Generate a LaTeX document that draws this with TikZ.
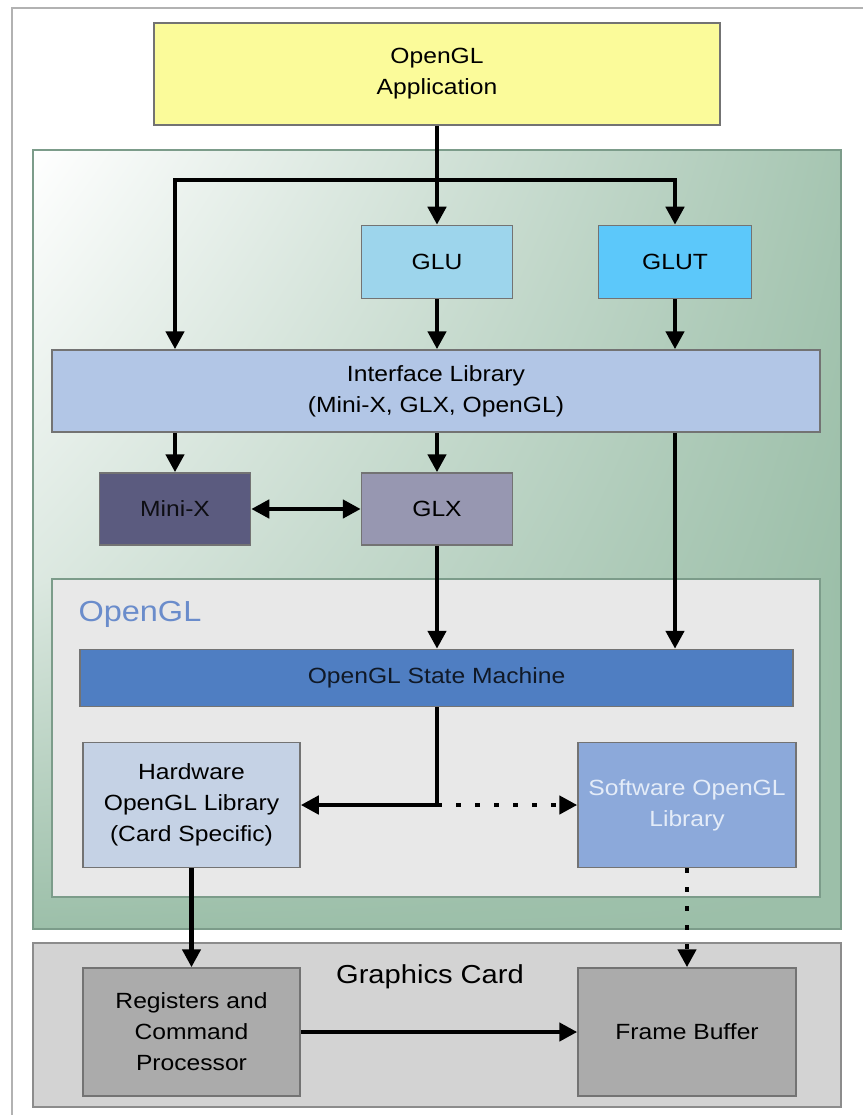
\documentclass[tikz,border=0pt]{standalone}
\usepackage{fontspec}
\setmainfont{Liberation Sans}[FakeStretch=1.12]
\usepackage{tikz}
\usetikzlibrary{arrows.meta,shadings}

\definecolor{appyellow}{HTML}{FBFB9A}
\definecolor{panelgreen}{HTML}{9CBFA9}
\definecolor{panelline}{HTML}{7C9C8A}
\definecolor{glublue}{HTML}{9DD5EC}
\definecolor{glutblue}{HTML}{5CC8FA}
\definecolor{ifaceblue}{HTML}{B2C6E6}
\definecolor{minixcol}{HTML}{5B5B7F}
\definecolor{glxcol}{HTML}{9797B1}
\definecolor{glpanel}{HTML}{E8E8E8}
\definecolor{gllabel}{HTML}{6A8CCB}
\definecolor{smblue}{HTML}{4F7EC2}
\definecolor{hwcol}{HTML}{C5D2E5}
\definecolor{swcol}{HTML}{8CA9DA}
\definecolor{swtext}{HTML}{E4ECF8}
\definecolor{cardgray}{HTML}{D3D3D3}
\definecolor{boxgray}{HTML}{ABABAB}

\begin{document}
\begin{tikzpicture}
  [x=1pt,y=-1pt,align=center,font=\fontsize{22}{31}\selectfont,
   box/.style={draw=black!55,line width=1.5pt,inner sep=0pt},
   link/.style={line width=4.5pt},
   dots/.style={line width=4.5pt,dash pattern=on 4.5pt off 14.5pt},
   >={Triangle[length=18pt,width=18pt]}]

  \useasboundingbox (0,0) rectangle (863,1115);
  \draw [black!30,line width=1.5pt] (12,1115) -- (12,8) -- (863,8);

  \shade [upper left=white,upper right=panelgreen!90,lower left=panelgreen!35,lower right=panelgreen]
    (33,150) rectangle (841,580);
  \shade [upper left=panelgreen!35,upper right=panelgreen,lower left=panelgreen,lower right=panelgreen]
    (33,579) rectangle (841,929);
  \draw [panelline,line width=1.5pt] (33,150) rectangle (841,929);
  \draw [fill=glpanel,draw=panelline,line width=1.5pt] (52,579) rectangle (820,897);
  \draw [fill=cardgray,draw=black!45,line width=1.5pt] (33,943) rectangle (841,1107);

  \node (app) [box,fill=appyellow,minimum width=566,minimum height=102] at (437,74) {OpenGL\\Application};
  \node (glu) [box,fill=glublue,minimum width=151,minimum height=73] at (437,262) {GLU};
  \node (glut) [box,fill=glutblue,minimum width=153,minimum height=73] at (675,262) {GLUT};
  \node (iface) [box,fill=ifaceblue,minimum width=768,minimum height=82] at (436,391) {Interface Library\\(Mini-X, GLX, OpenGL)};
  \node (minix) [box,fill=minixcol,text=black!85!minixcol,minimum width=151,minimum height=72] at (175,509) {Mini-X};
  \node (glx) [box,fill=glxcol,minimum width=151,minimum height=72] at (437,509) {GLX};
  \node (gl) [text=gllabel,font=\fontsize{29}{34}\selectfont,anchor=west] at (75,614) {OpenGL};
  \node (sm) [box,fill=smblue,text=black!80!smblue,minimum width=713,minimum height=57] at (436.5,678) {OpenGL State Machine};
  \node (hw) [box,fill=hwcol,minimum width=217,minimum height=125] at (191.5,805) {Hardware\\OpenGL Library\\(Card Specific)};
  \node (sw) [box,fill=swcol,text=swtext,minimum width=218,minimum height=125] at (687,805) {Software OpenGL\\Library};
  \node (card) [font=\fontsize{26}{31}\selectfont] at (430,977) {Graphics Card};
  \node (reg) [box,fill=boxgray,minimum width=217,minimum height=128] at (191.5,1032) {Registers and\\Command\\Processor};
  \node (fb) [box,fill=boxgray,minimum width=218,minimum height=128] at (687,1032) {Frame Buffer};

  \coordinate (tee) at (437,180);
  \coordinate (lft) at (175,180);
  \coordinate (rgt) at (675,180);
  \coordinate (split) at (437,805);

  \draw [link,->] (app.south) -- (glu.north);
  \draw [link,->] (tee) -- (lft) -- (lft |- iface.north);
  \draw [link,->] (tee) -- (rgt) -- (glut.north);
  \draw [link,->] (glu) -- (glu |- iface.north);
  \draw [link,->] (glut) -- (glut |- iface.north);
  \draw [link,->] (iface.south -| minix) -- (minix.north);
  \draw [link,->] (iface.south -| glx) -- (glx.north);
  \draw [link,<->] (minix) -- (glx);
  \draw [link,->] (iface.south -| rgt) -- (sm.north -| rgt);
  \draw [link,->] (glx.south) -- (sm.north -| glx);
  \draw [link,->] (sm.south -| split) -- (split) -- (hw.east);
  \draw [dots,->] (split) -- (sw.west);
  \draw [link,->] (hw.south) -- (reg.north);
  \draw [dots,->] (sw.south) -- (fb.north);
  \draw [link,->] (reg) -- (fb);
\end{tikzpicture}
\end{document}
